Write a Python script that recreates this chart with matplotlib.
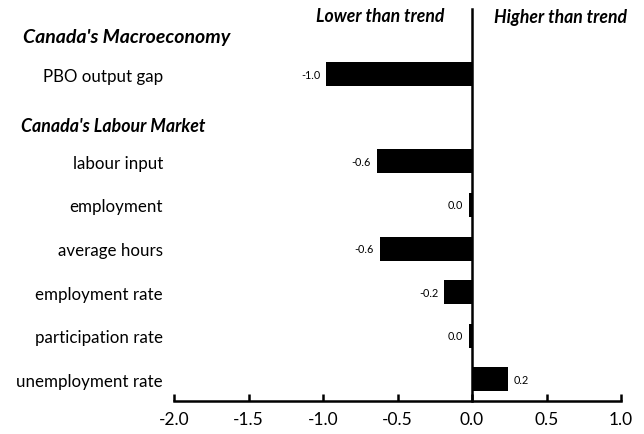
import matplotlib
matplotlib.use("Agg")
import matplotlib.pyplot as plt

# data
categories = ["PBO output gap", "labour input", "employment", "average hours",
              "employment rate", "participation rate", "unemployment rate"]
values = [-0.98, -0.64, -0.02, -0.62, -0.19, -0.02, 0.24]
rows = [7, 5, 4, 3, 2, 1, 0]
xticks = [-2.0, -1.5, -1.0, -0.5, 0.0, 0.5, 1.0]

plt.rcParams['font.family'] = ['Lato', 'DejaVu Sans']

fig = plt.figure(figsize=(6.44, 4.35), dpi=100)
ax = fig.add_axes([174 / 644, 33 / 435, 447 / 644, 392 / 435])

ax.barh(rows, values, height=0.55, color="black")

# value labels next to bar ends
for r, v in zip(rows, values):
    txt = f"{v:.1f}"
    if txt == "-0.0":
        txt = "0.0"
    if v < 0:
        ax.annotate(txt, (v, r), xytext=(-4, 0), textcoords="offset points",
                    ha="right", va="center", fontsize=7.8)
    else:
        ax.annotate(txt, (v, r), xytext=(4, 0), textcoords="offset points",
                    ha="left", va="center", fontsize=7.8)

# zero line
ax.plot([0, 0], [-0.5, 8.5], color="black", lw=1.8, clip_on=False)

ax.set_xlim(-2.0, 1.0)
ax.set_ylim(-0.5, 8.5)
ax.set_xticks(xticks)
ax.set_xticklabels([f"{t:.1f}" for t in xticks], fontsize=12.5)
ax.set_yticks(rows)
ax.set_yticklabels(categories, fontsize=12.2)
ax.tick_params(axis="y", length=0, pad=8)
ax.tick_params(axis="x", direction="in", length=5, width=1.8, pad=7)

for s in ["top", "right", "left"]:
    ax.spines[s].set_visible(False)
ax.spines["bottom"].set_linewidth(1.8)

# headers
fig.text(23 / 644, 1 - 37 / 435, "Canada's Macroeconomy", fontsize=14,
         fontweight="bold", fontstyle="italic", va="center", ha="left")
fig.text(21 / 644, 1 - 127 / 435, "Canada's Labour Market", fontsize=12.8,
         fontweight="bold", fontstyle="italic", va="center", ha="left")
fig.text(444 / 644, 1 - 17 / 435, "Lower than trend", fontsize=12.7,
         fontweight="bold", fontstyle="italic", va="center", ha="right")
fig.text(494 / 644, 1 - 17 / 435, "Higher than trend", fontsize=12.7,
         fontweight="bold", fontstyle="italic", va="center", ha="left")

fig.savefig("out.png", dpi=100, facecolor="white")
